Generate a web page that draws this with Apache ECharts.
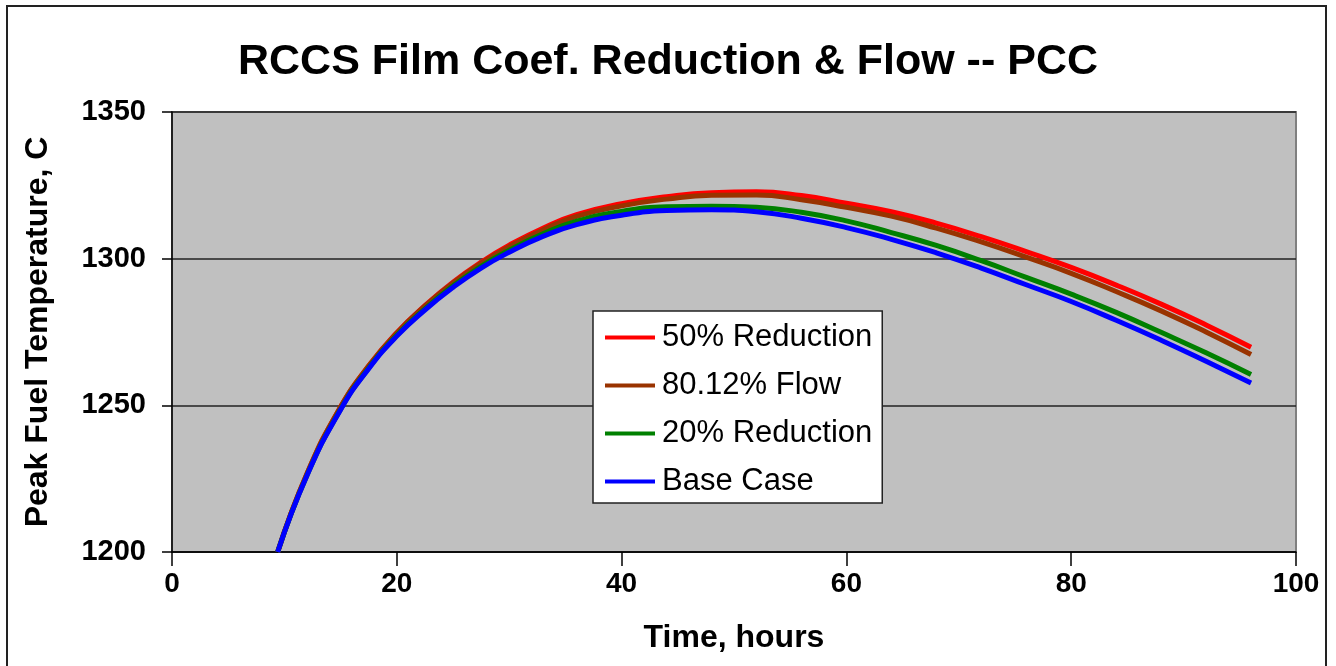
<!DOCTYPE html>
<html>
<head>
<meta charset="utf-8">
<script src="https://cdn.jsdelivr.net/npm/echarts@6/dist/echarts.min.js"></script>
<style>
html,body{margin:0;padding:0;background:#fff;}
#chart{width:1336px;height:666px;}
</style>
</head>
<body>
<div id="chart"></div>
<script>
const hours = [9.4, 12, 15, 17.5, 20, 22.5, 25, 27.5, 30, 33, 36, 40, 44, 48, 52, 56, 60, 64, 68, 72, 76, 80, 84, 88, 92, 96];
const reduction50 = [1200, 1226.6, 1249.5, 1263.5, 1274.8, 1284.0, 1292.0, 1298.8, 1304.6, 1310.4, 1315.0, 1318.7, 1321.1, 1322.5, 1322.8, 1321.5, 1318.9, 1316.0, 1312.1, 1307.5, 1302.4, 1297.0, 1291.0, 1284.5, 1277.4, 1269.8];
const flow8012 = [1200, 1226.6, 1249.4, 1263.4, 1274.6, 1283.8, 1291.7, 1298.4, 1304.1, 1309.8, 1314.4, 1318.0, 1320.3, 1321.6, 1321.7, 1320.1, 1317.5, 1314.5, 1310.4, 1305.7, 1300.5, 1295.0, 1288.8, 1282.2, 1275.0, 1267.3];
const reduction20 = [1200, 1226.1, 1248.7, 1262.7, 1273.9, 1282.9, 1290.7, 1297.4, 1302.9, 1308.5, 1312.8, 1316.1, 1317.7, 1317.9, 1317.5, 1315.8, 1312.9, 1308.9, 1304.5, 1299.3, 1293.6, 1287.9, 1281.7, 1274.9, 1267.9, 1260.5];
const baseCase = [1200, 1226.0, 1248.5, 1262.5, 1273.6, 1282.5, 1290.2, 1296.8, 1302.2, 1307.6, 1311.6, 1314.8, 1316.4, 1316.7, 1316.0, 1313.8, 1310.6, 1306.6, 1302.0, 1296.8, 1291.1, 1285.4, 1279.0, 1272.2, 1265.0, 1257.6];
const seriesNames = ['50% Reduction', '80.12% Flow', '20% Reduction', 'Base Case'];
const seriesColors = ['#FF0000', '#993300', '#008000', '#0000FF'];
const xTicks = [0, 20, 40, 60, 80, 100];
const yTicks = [1200, 1250, 1300, 1350];

const seriesData = [reduction50, flow8012, reduction20, baseCase];
const chart = echarts.init(document.getElementById('chart'));
const font = 'Liberation Sans, Arial, sans-serif';
chart.setOption({
  animation: false,
  backgroundColor: '#ffffff',
  title: {
    text: 'RCCS Film Coef. Reduction & Flow -- PCC',
    left: 'center',
    top: 36,
    textStyle: { fontFamily: font, fontWeight: 'bold', fontSize: 43, color: '#000' }
  },
  graphic: [{
    type: 'rect', z: 0,
    shape: { x: 7, y: 6, width: 1319, height: 680 },
    style: { fill: 'none', stroke: '#222', lineWidth: 2 }
  }],
  grid: {
    left: 172, top: 112, right: 40, bottom: 114,
    show: true, backgroundColor: '#C0C0C0', borderColor: '#808080', borderWidth: 2
  },
  legend: {
    orient: 'vertical',
    left: 593, top: 311,
    backgroundColor: '#ffffff',
    borderColor: '#222', borderWidth: 1.5,
    padding: [11, 10, 6, 12],
    itemWidth: 50, itemHeight: 14, itemGap: 17,
    textStyle: { fontFamily: font, fontSize: 31, color: '#000', padding: [0, 0, 0, 2] },
    data: seriesNames.map(n => ({ name: n, icon: 'path://M0,0 L50,0 L50,4 L0,4 Z' }))
  },
  xAxis: {
    type: 'value', min: 0, max: 100, interval: 20,
    name: 'Time, hours', nameLocation: 'middle', nameGap: 70,
    nameTextStyle: { fontFamily: font, fontWeight: 'bold', fontSize: 32, color: '#000' },
    axisLine: { show: true, lineStyle: { color: '#000', width: 1.5 } },
    axisTick: { show: true, length: 14, lineStyle: { color: '#000', width: 1.5 } },
    axisLabel: { fontFamily: font, fontWeight: 'bold', fontSize: 28, color: '#000', margin: 18,
      formatter: v => xTicks.includes(v) ? String(v) : '' },
    splitLine: { show: false }
  },
  yAxis: {
    type: 'value', min: 1200, max: 1350, interval: 50,
    name: 'Peak Fuel Temperature, C', nameLocation: 'middle', nameGap: 118, nameRotate: 90,
    nameTextStyle: { fontFamily: font, fontWeight: 'bold', fontSize: 32, color: '#000' },
    axisLine: { show: true, lineStyle: { color: '#000', width: 1.5 } },
    axisTick: { show: true, length: 10, inside: false, lineStyle: { color: '#000', width: 1.5 } },
    axisLabel: { fontFamily: font, fontWeight: 'bold', fontSize: 29, color: '#000', margin: 26,
      formatter: v => yTicks.includes(v) ? String(v) : '' },
    splitLine: { show: true, lineStyle: { color: '#222', width: 1.5 } }
  },
  series: seriesNames.map((name, i) => ({
    name: name,
    type: 'line',
    smooth: 0.5,
    symbol: 'none',
    clip: true,
    data: hours.map((h, j) => [h, seriesData[i][j]]),
    lineStyle: { color: seriesColors[i], width: 5 },
    itemStyle: { color: seriesColors[i] }
  }))
});
</script>
</body>
</html>
